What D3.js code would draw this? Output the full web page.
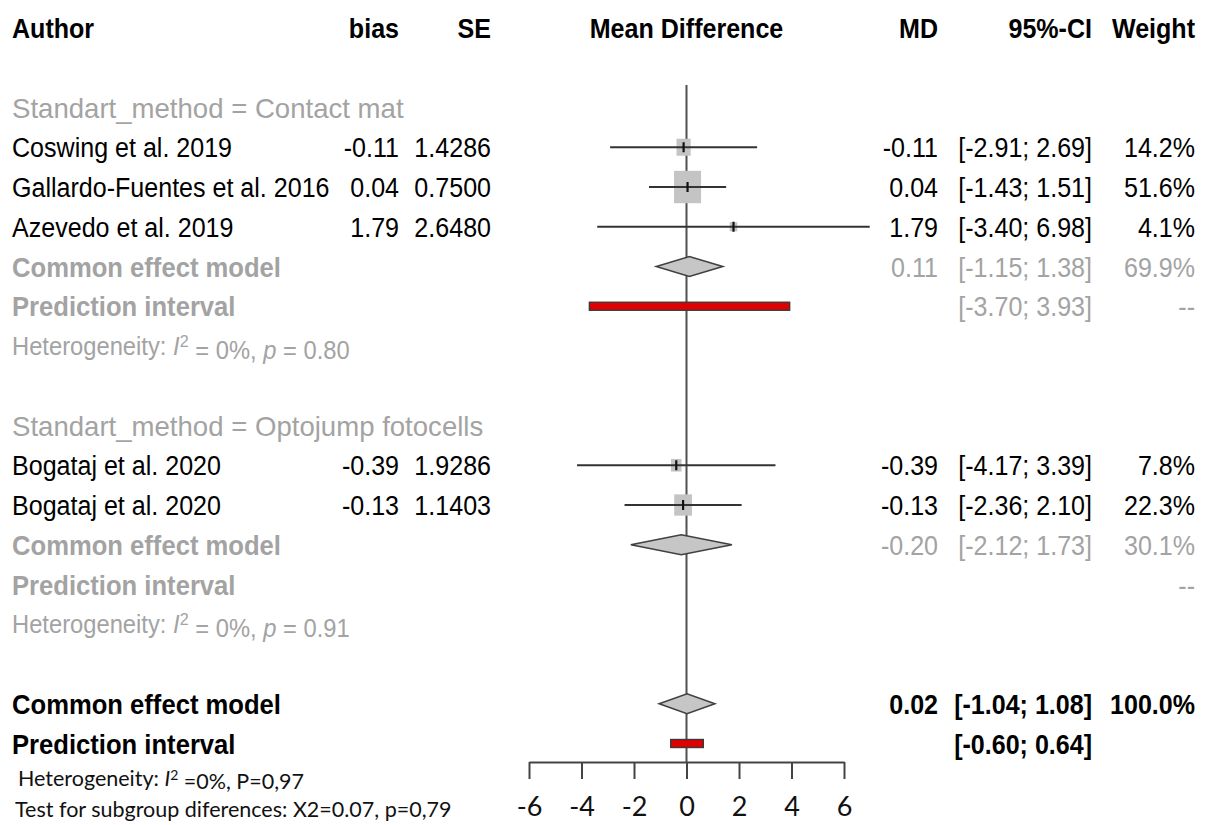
<!DOCTYPE html>
<html>
<head>
    <script src="https://d3js.org/d3.v7.min.js"></script>
    <style>
        body { margin: 0; background: #fff; }
        text { font-family: "Liberation Sans Narrow", "Arial Narrow", "Liberation Sans", sans-serif; }
    </style>
</head>
<body>
    <script>
        // study level data
        var studyAuthors = ["Coswing et al. 2019", "Gallardo-Fuentes et al. 2016", "Azevedo et al. 2019", "Bogataj et al. 2020", "Bogataj et al. 2020"];
        var studyGroup = [0, 0, 0, 1, 1];
        var studyBias = [-0.11, 0.04, 1.79, -0.39, -0.13];
        var studySE = [1.4286, 0.7500, 2.6480, 1.9286, 1.1403];
        var studyLower = [-2.91, -1.43, -3.40, -4.17, -2.36];
        var studyUpper = [2.69, 1.51, 6.98, 3.39, 2.10];
        var studyWeight = [14.2, 51.6, 4.1, 7.8, 22.3];

        // subgroup summaries
        var groupLabels = ["Standart_method = Contact mat", "Standart_method = Optojump fotocells"];
        var groupMD = [0.11, -0.20];
        var groupLower = [-1.15, -2.12];
        var groupUpper = [1.38, 1.73];
        var groupWeight = [69.9, 30.1];
        var groupPredLower = [-3.70, null];
        var groupPredUpper = [3.93, null];
        var groupI2 = ["0%", "0%"];
        var groupP = ["0.80", "0.91"];

        // overall
        var overallMD = 0.02, overallLower = -1.04, overallUpper = 1.08, overallWeight = 100.0;
        var overallPredLower = -0.60, overallPredUpper = 0.64;

        var axisTicks = [-6, -4, -2, 0, 2, 4, 6];
        var headers = ["Author", "bias", "SE", "Mean Difference", "MD", "95%-CI", "Weight"];

        var width = 1210, height = 825;
        var grey = "#a3a3a3";
        var fs = 28, sx = 0.895;

        var svg = d3.select("body").append("svg")
            .attr("width", width)
            .attr("height", height);

        var x = d3.scaleLinear().domain([-6, 6]).range([529, 844]);
        var y = d3.scaleLinear().domain([0, 18]).range([28, 743.5]);

        var colAuthor = 12, colBias = 399, colSE = 491, colMD = 938, colCI = 1092, colW = 1195;

        function fmt(v, d) { return v.toFixed(d); }
        function ci(lo, hi) { return "[" + fmt(lo, 2) + "; " + fmt(hi, 2) + "]"; }

        // text squeezed horizontally to mimic the narrow font of the original
        function txt(xp, row, s, opts) {
            opts = opts || {};
            return svg.append("text")
                .attr("transform", "translate(" + xp + "," + y(row) + ") scale(" + (opts.sx || sx) + ",1)")
                .attr("dy", "0.36em")
                .attr("text-anchor", opts.anchor || "start")
                .attr("font-size", opts.size || fs)
                .attr("font-weight", opts.bold ? "bold" : "normal")
                .attr("fill", opts.color || "#000")
                .text(s);
        }

        // headers
        txt(colAuthor, 0, headers[0], {bold: true});
        txt(colBias, 0, headers[1], {bold: true, anchor: "end"});
        txt(colSE, 0, headers[2], {bold: true, anchor: "end"});
        txt(x(0), 0, headers[3], {bold: true, anchor: "middle"});
        txt(colMD, 0, headers[4], {bold: true, anchor: "end"});
        txt(colCI, 0, headers[5], {bold: true, anchor: "end"});
        txt(colW, 0, headers[6], {bold: true, anchor: "end"});

        // reference line
        svg.append("line")
            .attr("x1", x(0)).attr("x2", x(0))
            .attr("y1", 85).attr("y2", 762)
            .attr("stroke", "#505050").attr("stroke-width", 2);

        var plot = svg.append("g");

        function diamond(row, md, lo, hi) {
            var cy = y(row), h = 10;
            plot.append("path")
                .attr("d", "M" + x(lo) + "," + cy + "L" + x(md) + "," + (cy - h) + "L" + x(hi) + "," + cy + "L" + x(md) + "," + (cy + h) + "Z")
                .attr("fill", "#c6c6c6")
                .attr("stroke", "#404040")
                .attr("stroke-width", 1.6);
        }

        function predBar(row, lo, hi) {
            plot.append("rect")
                .attr("x", x(lo)).attr("y", y(row) - 4)
                .attr("width", x(hi) - x(lo)).attr("height", 8)
                .attr("fill", "#e00000")
                .attr("stroke", "#3a3a3a")
                .attr("stroke-width", 1.4);
        }

        function hetText(row, i2, p, color) {
            var t = txt(colAuthor, row, null, {color: color, size: 25, sx: 0.95});
            t.append("tspan").text("Heterogeneity: ");
            t.append("tspan").attr("font-style", "italic").text("I");
            t.append("tspan").attr("dy", "-0.5em").attr("font-size", 17).text("2");
            t.append("tspan").attr("dy", "0.5em").text(" = " + i2 + ", ");
            t.append("tspan").attr("font-style", "italic").text("p");
            t.append("tspan").text(" = " + p);
        }

        var rowStart = [2, 10];
        var sqScale = d3.scaleSqrt().domain([0, 100]).range([0, 37.6]);

        groupLabels.forEach(function(g, gi) {
            var r = rowStart[gi];
            txt(colAuthor, r, g, {color: grey, sx: 0.985});
            var idx = d3.range(studyAuthors.length).filter(function(i) { return studyGroup[i] === gi; });
            idx.forEach(function(i, k) {
                var row = r + 1 + k;
                txt(colAuthor, row, studyAuthors[i]);
                txt(colBias, row, fmt(studyBias[i], 2), {anchor: "end"});
                txt(colSE, row, fmt(studySE[i], 4), {anchor: "end"});
                txt(colMD, row, fmt(studyBias[i], 2), {anchor: "end"});
                txt(colCI, row, ci(studyLower[i], studyUpper[i]), {anchor: "end"});
                txt(colW, row, fmt(studyWeight[i], 1) + "%", {anchor: "end"});

                var s = sqScale(studyWeight[i]);
                plot.append("rect")
                    .attr("x", x(studyBias[i]) - s / 2)
                    .attr("y", y(row) - s * 0.6)
                    .attr("width", s).attr("height", s * 1.2)
                    .attr("fill", "#c4c4c4");
                plot.append("line")
                    .attr("x1", x(studyLower[i])).attr("x2", x(studyUpper[i]))
                    .attr("y1", y(row)).attr("y2", y(row))
                    .attr("stroke", "#333").attr("stroke-width", 2);
                plot.append("line")
                    .attr("x1", x(studyBias[i])).attr("x2", x(studyBias[i]))
                    .attr("y1", y(row) - 5).attr("y2", y(row) + 5)
                    .attr("stroke", "#111").attr("stroke-width", 2.2);
            });
            var rc = r + 1 + idx.length;
            txt(colAuthor, rc, "Common effect model", {bold: true, color: grey, sx: 0.915});
            txt(colMD, rc, fmt(groupMD[gi], 2), {anchor: "end", color: grey});
            txt(colCI, rc, ci(groupLower[gi], groupUpper[gi]), {anchor: "end", color: grey});
            txt(colW, rc, fmt(groupWeight[gi], 1) + "%", {anchor: "end", color: grey});
            diamond(rc, groupMD[gi], groupLower[gi], groupUpper[gi]);

            txt(colAuthor, rc + 1, "Prediction interval", {bold: true, color: grey, sx: 0.915});
            if (groupPredLower[gi] !== null) {
                txt(colCI, rc + 1, ci(groupPredLower[gi], groupPredUpper[gi]), {anchor: "end", color: grey});
                predBar(rc + 1, groupPredLower[gi], groupPredUpper[gi]);
            }
            txt(colW, rc + 1, "--", {anchor: "end", color: grey});
            hetText(rc + 2, groupI2[gi], groupP[gi], grey);
        });

        // overall
        txt(colAuthor, 17, "Common effect model", {bold: true, sx: 0.915});
        txt(colMD, 17, fmt(overallMD, 2), {bold: true, anchor: "end"});
        txt(colCI, 17, ci(overallLower, overallUpper), {bold: true, anchor: "end"});
        txt(colW, 17, fmt(overallWeight, 1) + "%", {bold: true, anchor: "end"});
        diamond(17, overallMD, overallLower, overallUpper);
        txt(colAuthor, 18, "Prediction interval", {bold: true, sx: 0.915});
        txt(colCI, 18, ci(overallPredLower, overallPredUpper), {bold: true, anchor: "end"});
        predBar(18, overallPredLower, overallPredUpper);

        // axis
        var axis = d3.axisBottom(x)
            .tickValues(axisTicks)
            .tickSize(17)
            .tickSizeOuter(0)
            .tickPadding(18)
            .tickFormat(function(d) { return String(d); });
        var ax = svg.append("g")
            .attr("transform", "translate(0,762)")
            .call(axis);
        ax.select(".domain").attr("stroke", "#444").attr("stroke-width", 2);
        ax.selectAll(".tick line").attr("stroke", "#444").attr("stroke-width", 2);
        ax.selectAll(".tick text")
            .attr("fill", "#111")
            .attr("font-size", 27)
            .style("font-family", "Lato, 'Open Sans', sans-serif");

        // bottom notes
        var note1 = svg.append("text")
            .attr("x", 18).attr("y", 786)
            .attr("font-size", 21.5)
            .attr("fill", "#111")
            .style("font-family", "Lato, 'Open Sans', sans-serif");
        note1.append("tspan").text("Heterogeneity: ");
        note1.append("tspan").attr("font-style", "italic").text("I");
        note1.append("tspan").attr("dy", "-0.4em").attr("font-size", 14).text("2");
        note1.append("tspan").attr("dy", "0.4em").text(" =0%, P=0,97");

        svg.append("text")
            .attr("x", 15).attr("y", 817)
            .attr("font-size", 21.5)
            .attr("fill", "#111")
            .style("font-family", "Lato, 'Open Sans', sans-serif")
            .text("Test for subgroup diferences: X2=0.07, p=0,79");
    </script>
</body>
</html>
